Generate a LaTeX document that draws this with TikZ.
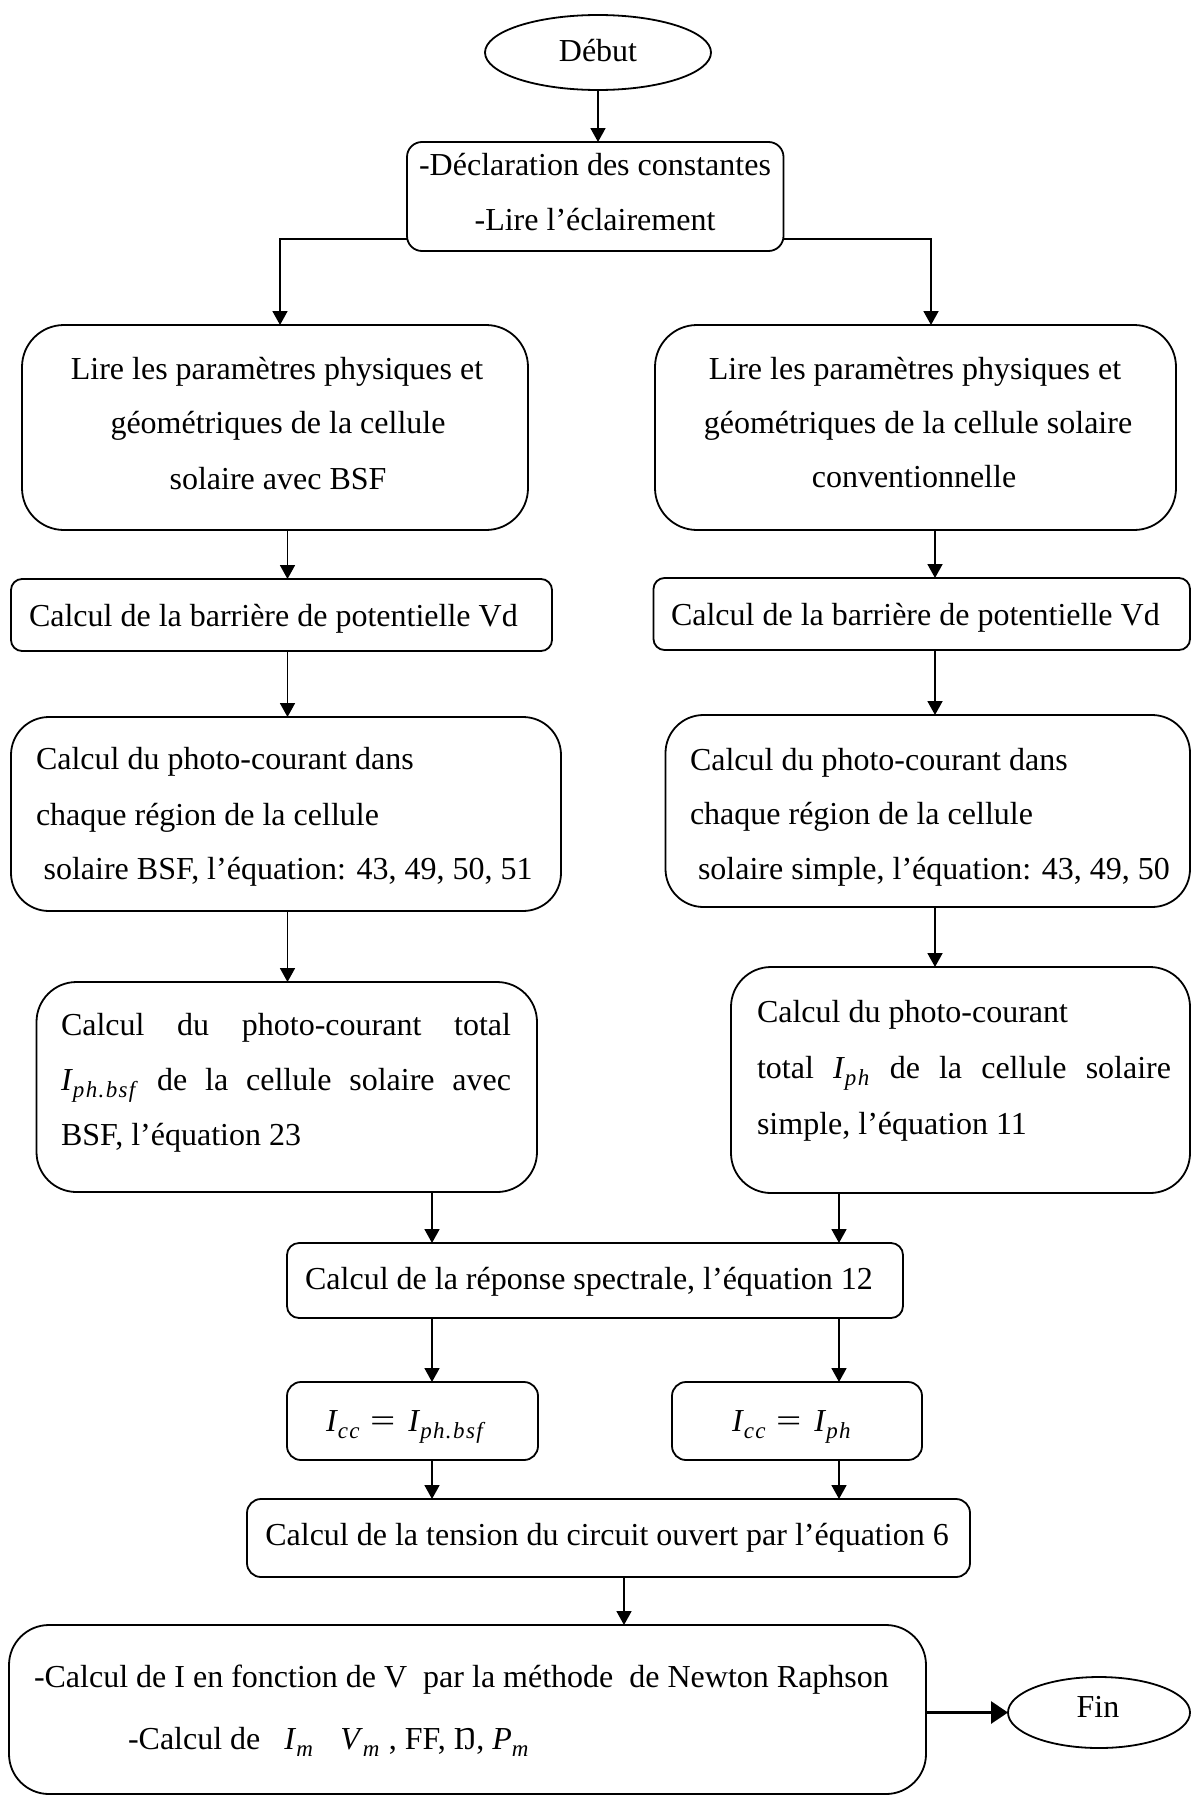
\documentclass[tikz,border=0pt]{standalone}
\usepackage{graphicx}
\usepackage{fontspec}
\setmainfont{Liberation Serif}
\usetikzlibrary{arrows.meta,shapes.geometric}
\newcommand{\mI}[2]{\textit{#1}\raisebox{-7pt}{\fontsize{23}{23}\selectfont\addfontfeature{LetterSpace=6}\textit{#2}}}
\newcommand{\BoxAt}[6]{\node[rbox, rounded corners=#6pt, minimum width={#4-#2}, minimum height={#5-#3}] (#1) at ({(#2+#4)/2},{(#3+#5)/2}) {};}
\begin{document}
\begin{tikzpicture}[x=1pt,y=-1pt,
  rbox/.style={draw, line width=1.8pt, inner sep=0pt, outer sep=0pt},
  oval/.style={ellipse, draw, line width=1.8pt, inner sep=0pt, outer sep=0pt},
  txt/.style={inner sep=0pt, outer sep=0pt, font=\fontsize{32}{38}\selectfont},
  arr/.style={line width=1.8pt, -{Triangle[length=14pt,width=15pt]}},
  arrthick/.style={line width=3pt, -{Triangle[length=17pt,width=22pt]}}]
\useasboundingbox (0,0) rectangle (1192,1796);

% shapes
\node[oval, minimum width=226pt, minimum height=75pt] (debut) at (598,52.5) {};
\BoxAt{decl}{407}{142}{783.5}{251}{15}
\BoxAt{lireL}{22}{325}{528}{530}{42}
\BoxAt{lireR}{655}{325}{1176}{530}{42}
\BoxAt{vdL}{11}{579}{552}{651}{11}
\BoxAt{vdR}{653.5}{578}{1190}{650}{11}
\BoxAt{phL}{11}{717}{561}{911}{38}
\BoxAt{phR}{665.5}{715}{1190}{907}{38}
\BoxAt{totL}{36.5}{982}{537}{1192}{40}
\BoxAt{totR}{731}{967}{1190}{1193}{40}
\BoxAt{rep}{287}{1243}{903}{1318}{12}
\BoxAt{iccL}{287}{1382}{538}{1460}{14}
\BoxAt{iccR}{672}{1382}{922}{1460}{14}
\BoxAt{tens}{247}{1499}{970}{1577}{14}
\BoxAt{big}{9}{1625}{926}{1794}{40}
\node[oval, minimum width=182pt, minimum height=71pt] (fin) at (1099,1712.5) {};

% texts
\node[txt, anchor=base] (tDeb) at (598,61) {Début};
\node[txt, anchor=base] (tDecl1) at (595,175) {-Déclaration des constantes};
\node[txt, anchor=base] (tDecl2) at (595,230) {-Lire l’éclairement};
\node[txt, anchor=base] (tLL1) at (277,379) {Lire les paramètres physiques et};
\node[txt, anchor=base] (tLL2) at (278,433) {géométriques de la cellule};
\node[txt, anchor=base] (tLL3) at (278,489) {solaire avec BSF};
\node[txt, anchor=base] (tLR1) at (915,379) {Lire les paramètres physiques et};
\node[txt, anchor=base] (tLR2) at (918,433) {géométriques de la cellule solaire};
\node[txt, anchor=base] (tLR3) at (914,487) {conventionnelle};
\node[txt, anchor=base west] (tVL) at (29,626) {Calcul de la barrière de potentielle Vd};
\node[txt, anchor=base west] (tVR) at (671,625) {Calcul de la barrière de potentielle Vd};
\node[txt, anchor=base west] (tPL1) at (36,769) {Calcul du photo-courant dans};
\node[txt, anchor=base west] (tPL2) at (36,825) {chaque région de la cellule};
\node[txt, anchor=base west] (tPL3) at (43.6,879) {solaire BSF, l’équation: 43, 49, 50, 51};
\node[txt, anchor=base west] (tPR1) at (690,770) {Calcul du photo-courant dans};
\node[txt, anchor=base west] (tPR2) at (690,824) {chaque région de la cellule};
\node[txt, anchor=base west] (tPR3) at (698,879) {solaire simple, l’équation: 43, 49, 50};
\node[txt, anchor=base west] (tTL1) at (61,1035) {\makebox[450pt][s]{Calcul du photo-courant total}};
\node[txt, anchor=base west] (tTL2) at (61,1090) {\makebox[450pt][s]{\mI{I}{ph.bsf} de la cellule solaire avec}};
\node[txt, anchor=base west] (tTL3) at (61,1145) {BSF, l’équation 23};
\node[txt, anchor=base west] (tTR1) at (757,1022) {Calcul du photo-courant};
\node[txt, anchor=base west] (tTR2) at (757,1078) {\makebox[414pt][s]{total \mI{I}{ph} de la cellule solaire}};
\node[txt, anchor=base west] (tTR3) at (757,1134) {simple, l’équation 11};
\node[txt, anchor=base] (tRep) at (589,1289) {Calcul de la réponse spectrale, l’équation 12};
\node[txt, anchor=base west] (tIL) at (326,1431) {\mI{I}{cc}\hspace{9pt}\scalebox{1.4}[1]{=}\hspace{13pt}\mI{I}{ph.bsf}};
\node[txt, anchor=base west] (tIR) at (732,1431) {\mI{I}{cc}\hspace{9pt}\scalebox{1.4}[1]{=}\hspace{13pt}\mI{I}{ph}};
\node[txt, anchor=base] (tTens) at (607,1545) {Calcul de la tension du circuit ouvert par l’équation 6};
\node[txt, anchor=base west] (tB1) at (34,1687) {-Calcul de I en fonction de V\ \ par la méthode\ \ de Newton Raphson};
\node[txt, anchor=base west] (tB2) at (128,1749) {-Calcul de\hspace{24pt}\mI{I}{m}\hspace{26pt}\mI{V}{m}\hspace{8pt}, FF, Ŋ, \mI{P}{m}};
\node[txt, anchor=base] (tFin) at (1098,1717) {Fin};

% column coordinates
\coordinate (xa) at (287.5,0);
\coordinate (xb) at (935,0);
\coordinate (xc) at (432,0);
\coordinate (xd) at (839,0);
\coordinate (xe) at (624,0);
\coordinate (bl) at (280,239);
\coordinate (br) at (931,239);

% connectors
\draw[arr] (debut.south) -- (decl.north -| debut.south);
\draw[arr] (decl.west |- bl) -- (bl) -- (lireL.north -| bl);
\draw[arr] (decl.east |- br) -- (br) -- (lireR.north -| br);
\draw[arr] (lireL.south -| xa) -- (vdL.north -| xa);
\draw[arr] (vdL.south -| xa) -- (phL.north -| xa);
\draw[arr] (phL.south -| xa) -- (totL.north -| xa);
\draw[arr] (lireR.south -| xb) -- (vdR.north -| xb);
\draw[arr] (vdR.south -| xb) -- (phR.north -| xb);
\draw[arr] (phR.south -| xb) -- (totR.north -| xb);
\draw[arr] (totL.south -| xc) -- (rep.north -| xc);
\draw[arr] (totR.south -| xd) -- (rep.north -| xd);
\draw[arr] (rep.south -| xc) -- (iccL.north -| xc);
\draw[arr] (rep.south -| xd) -- (iccR.north -| xd);
\draw[arr] (iccL.south -| xc) -- (tens.north -| xc);
\draw[arr] (iccR.south -| xd) -- (tens.north -| xd);
\draw[arr] (tens.south -| xe) -- (big.north -| xe);
\draw[arrthick] (big.east |- fin.west) -- (fin.west);
\end{tikzpicture}
\end{document}
